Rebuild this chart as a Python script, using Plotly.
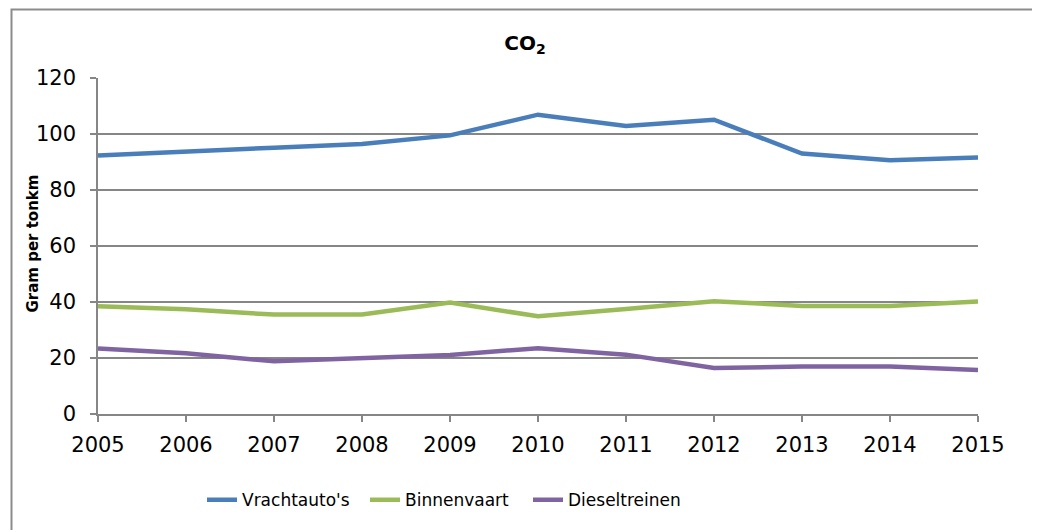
import plotly.graph_objects as go

years = [2005, 2006, 2007, 2008, 2009, 2010, 2011, 2012, 2013, 2014, 2015]
vrachtautos = [92.3, 93.5, 95.1, 96.4, 99.5, 106.9, 102.9, 105.1, 93.0, 90.6, 91.6]
binnenvaart = [38.5, 37.4, 35.5, 35.5, 39.8, 34.9, 37.5, 40.3, 38.6, 38.6, 40.2]
dieseltreinen = [23.4, 21.7, 18.8, 19.8, 21.1, 23.5, 21.2, 16.4, 17.0, 17.0, 15.7]
series_names = ["Vrachtauto's", "Binnenvaart", "Dieseltreinen"]
colors = ["#4A7EBB", "#9BBB59", "#8064A2"]
y_ticks = [0, 20, 40, 60, 80, 100, 120]

fig = go.Figure()
for name, vals, col in zip(series_names, [vrachtautos, binnenvaart, dieseltreinen], colors):
    fig.add_trace(go.Scatter(x=years, y=vals, mode="lines", name=name,
                             line=dict(color=col, width=4.5)))

# page body has an 8px margin; work in reference-screen coordinates
OFF = 8
W, H = 1040 - OFF, 530 - OFF
PL, PR, PT, PB = 98, 978, 78, 417  # plot area in screen coords
L, R, T, B = PL - OFF, W - (PR - OFF), PT - OFF, H - (PB - OFF)
pw, ph = PR - PL, PB - PT


def px(x):
    return (x - PL) / pw


def py(y):
    return (PB - y) / ph


fig.update_layout(
    width=W, height=H,
    margin=dict(l=L, r=R, t=T, b=B, pad=0),
    paper_bgcolor="white", plot_bgcolor="white",
    font=dict(family="DejaVu Sans", size=21, color="#000000"),
    title=dict(text="<b>CO<sub>2</sub></b>", x=(525 - OFF) / W, xref="container", xanchor="center",
               y=1 - (43 - OFF) / H, yref="container", yanchor="middle",
               font=dict(family="DejaVu Sans", size=20, color="#000000")),
    showlegend=True,
    legend=dict(orientation="h", x=px(202), xanchor="left", y=py(504), yanchor="middle",
                font=dict(family="DejaVu Sans", size=17, color="#000000"),
                bgcolor="rgba(0,0,0,0)", borderwidth=0,
                entrywidth=118, entrywidthmode="pixels", itemwidth=30),
    xaxis=dict(range=[2005, 2015], tickmode="array", tickvals=years,
               ticktext=[str(y) for y in years],
               showline=True, linecolor="#868686", linewidth=1.5,
               ticks="outside", ticklen=6, tickcolor="#868686", tickwidth=1.5,
               showgrid=False, zeroline=False, ticklabelstandoff=5),
    yaxis=dict(range=[0, 120], tickmode="array", tickvals=y_ticks,
               showline=True, linecolor="#868686", linewidth=1.5,
               ticks="outside", ticklen=6, tickcolor="#868686", tickwidth=1.5,
               showgrid=True, gridcolor="#868686", gridwidth=1.5,
               zeroline=False, ticklabelstandoff=10),
    annotations=[dict(text="<b>Gram per tonkm</b>", textangle=-90, x=px(33), y=py(245),
                      xref="paper", yref="paper", showarrow=False,
                      xanchor="center", yanchor="middle",
                      font=dict(family="DejaVu Sans", size=15, color="#000000"))],
    shapes=[dict(type="rect", xref="paper", yref="paper",
                 x0=px(11.5), x1=px(1038), y0=py(545), y1=py(9),
                 line=dict(color="#8c8c8c", width=2), fillcolor="rgba(0,0,0,0)",
                 layer="below")],
)

fig.write_html("out.html")
